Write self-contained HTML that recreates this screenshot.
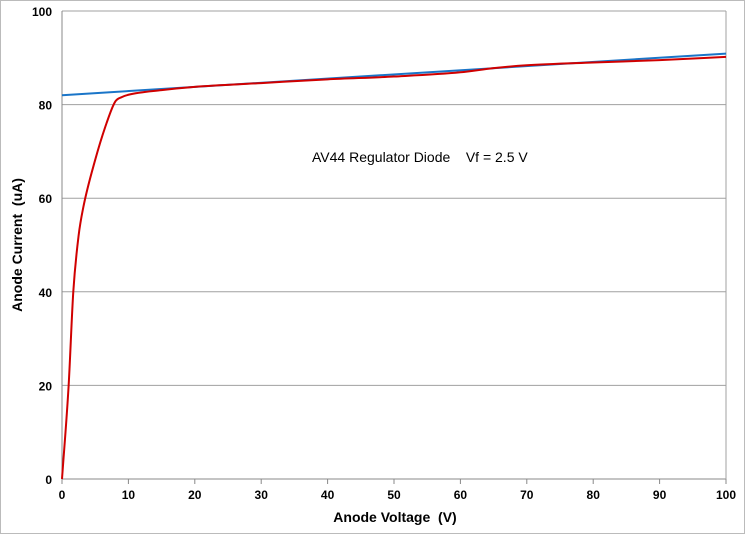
<!DOCTYPE html>
<html><head><meta charset="utf-8"><style>
body{margin:0;background:#fff;}
svg text{font-family:"Liberation Sans",sans-serif;font-weight:bold;}
</style></head><body>
<svg width="745" height="534" xmlns="http://www.w3.org/2000/svg">
<rect x="0.5" y="0.5" width="744" height="533" fill="#fff" stroke="#bbb"/>
<g id="grid"></g>
<g id="axes"></g>
<path id="fit" fill="none" stroke="#1a75c8" stroke-width="2"/>
<path id="curve" fill="none" stroke="#d00000" stroke-width="2"/>
<text x="312" y="162" font-size="14" style="font-weight:normal;white-space:pre" xml:space="preserve">AV44 Regulator Diode    Vf = 2.5 V</text>
<text x="395" y="522" font-size="14" text-anchor="middle" style="white-space:pre" xml:space="preserve">Anode Voltage  (V)</text>
<text transform="translate(22,245) rotate(-90)" font-size="14" text-anchor="middle" style="white-space:pre" xml:space="preserve">Anode Current  (uA)</text>
</svg>
<script>
const xTicks=[0,10,20,30,40,50,60,70,80,90,100];
const yTicks=[0,20,40,60,80,100];
const curveV=[0,1.0,1.7,2.5,3.2,5.0,6.7,8.0,9.0,10,15,20,30,40,50,60,65,70,80,90,100];
const curveI=[0,20,40,52,58,68.2,76,80.6,81.6,82.1,83.1,83.8,84.6,85.4,86,86.9,87.8,88.4,89,89.5,90.2];
const fitV=[0,100];
const fitI=[82,90.9];
const X=v=>62+v*6.64, Y=i=>479-i*4.68;
const ns="http://www.w3.org/2000/svg";
const grid=document.getElementById('grid'),axes=document.getElementById('axes');
function mk(tag,attrs,parent){const e=document.createElementNS(ns,tag);for(const k in attrs)e.setAttribute(k,attrs[k]);parent.appendChild(e);return e;}
yTicks.forEach(t=>{
 if(t>0){const l=mk('line',{x1:62,x2:726,y1:Y(t),y2:Y(t),stroke:'#a0a0a0','stroke-width':1},grid);
 
 }
 const tx=mk('text',{x:52,y:Y(t)+5,'font-size':12,'text-anchor':'end'},axes);tx.textContent=t;
 
 
});
xTicks.forEach(t=>{
 const tx=mk('text',{x:X(t),y:499,'font-size':12,'text-anchor':'middle'},axes);tx.textContent=t;
 
 
 const tk=mk('line',{x1:X(t),x2:X(t),y1:479,y2:484,stroke:'#888'},axes);
 
 
});
const ya=mk('line',{x1:62,x2:62,y1:11,y2:479,stroke:'#888'},axes);


const xa=mk('line',{x1:62,x2:726,y1:479,y2:479,stroke:'#888'},axes);


const rb=mk('line',{x1:726,x2:726,y1:11,y2:479,stroke:'#a0a0a0'},axes);


// monotone cubic (Fritsch-Carlson)
function monotone(xs,ys){const n=xs.length,d=[],m=[];
 for(let i=0;i<n-1;i++)d.push((ys[i+1]-ys[i])/(xs[i+1]-xs[i]));
 m[0]=d[0];m[n-1]=d[n-2];
 for(let i=1;i<n-1;i++){m[i]=(d[i-1]*d[i]<=0)?0:(d[i-1]+d[i])/2;}
 for(let i=0;i<n-1;i++){if(d[i]===0){m[i]=m[i+1]=0;continue;}
  const a=m[i]/d[i],b=m[i+1]/d[i],s=a*a+b*b;if(s>9){const t=3/Math.sqrt(s);m[i]=t*a*d[i];m[i+1]=t*b*d[i];}}
 let p='M'+X(xs[0])+','+Y(ys[0]);
 for(let i=0;i<n-1;i++){const h=(xs[i+1]-xs[i])/3;
  p+=` C${X(xs[i]+h)},${Y(ys[i]+m[i]*h)} ${X(xs[i+1]-h)},${Y(ys[i+1]-m[i+1]*h)} ${X(xs[i+1])},${Y(ys[i+1])}`;}
 return p;}
document.getElementById('curve').setAttribute('d',monotone(curveV,curveI));
document.getElementById('fit').setAttribute('d',`M${X(fitV[0])},${Y(fitI[0])} L${X(fitV[1])},${Y(fitI[1])}`);
</script>
</body></html>
